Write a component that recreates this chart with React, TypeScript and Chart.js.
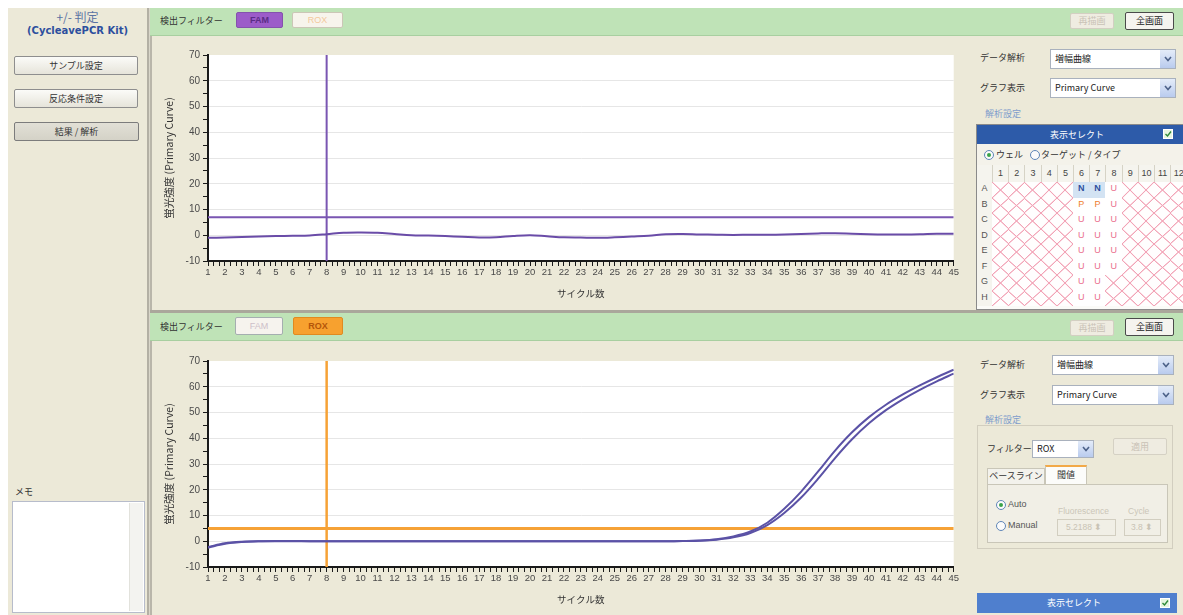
import React, { useEffect, useRef } from 'react';
import { Chart, registerables } from 'chart.js';

Chart.register(...registerables);

// ---------- data ----------
const cycles = [1, 2, 3, 4, 5, 6, 7, 8, 9, 10, 11, 12, 13, 14, 15, 16, 17, 18, 19, 20, 21, 22, 23, 24, 25, 26, 27, 28, 29, 30, 31, 32, 33, 34, 35, 36, 37, 38, 39, 40, 41, 42, 43, 44, 45];

const famCurve = [-1.0, -0.9, -0.7, -0.5, -0.3, -0.2, -0.1, 0.4, 1.0, 1.1, 1.0, 0.5, 0.0, -0.1, -0.3, -0.6, -0.9, -0.8, -0.3, 0.0, -0.4, -0.8, -0.9, -1.0, -0.8, -0.5, -0.2, 0.4, 0.5, 0.3, 0.2, 0.1, 0.2, 0.2, 0.3, 0.5, 0.7, 0.8, 0.6, 0.4, 0.3, 0.3, 0.4, 0.6, 0.6];

const roxCurveA = [-2.5, -1.0, -0.3, 0.0, 0.1, 0.1, 0.0, 0.0, 0.0, 0.0, 0.0, 0.0, 0.0, 0.0, 0.0, 0.0, 0.0, 0.0, 0.0, 0.0, 0.0, 0.0, 0.0, 0.0, 0.0, 0.0, 0.0, 0.0, 0.1, 0.3, 0.8, 1.9, 3.8, 7.2, 12.6, 19.3, 27.1, 35.2, 42.3, 48.2, 53.0, 57.0, 60.5, 63.7, 66.6];

const roxCurveB = [-2.2, -0.8, -0.2, 0.0, 0.0, 0.0, 0.0, 0.0, 0.0, 0.0, 0.0, 0.0, 0.0, 0.0, 0.0, 0.0, 0.0, 0.0, 0.0, 0.0, 0.0, 0.0, 0.0, 0.0, 0.0, 0.0, 0.0, 0.0, 0.1, 0.2, 0.6, 1.5, 3.2, 6.3, 11.0, 17.0, 24.3, 32.3, 39.6, 45.8, 50.9, 55.1, 58.8, 62.1, 65.1];

const famThreshold = 7;
const roxThreshold = 5;
const markerCycle = 8;
const yMin = -10;
const yMax = 70;
const yLabel = '蛍光強度 (Primary Curve)';
const xLabel = 'サイクル数';

const plateRows = ['A', 'B', 'C', 'D', 'E', 'F', 'G', 'H'];
const plateCols = [1, 2, 3, 4, 5, 6, 7, 8, 9, 10, 11, 12];
const wellCalls: Record<string, string> = {
  A6: 'N', A7: 'N', A8: 'U',
  B6: 'P', B7: 'P', B8: 'U',
  C6: 'U', C7: 'U', C8: 'U',
  D6: 'U', D7: 'U', D8: 'U',
  E6: 'U', E7: 'U', E8: 'U',
  F6: 'U', F7: 'U', F8: 'U',
  G6: 'U', G7: 'U',
  H6: 'U', H7: 'U',
};

// ---------- styles ----------
const BEIGE = '#ece9d8';
const GREEN = '#bfe3b7';
const FONT_JP = '"Noto Sans CJK JP", "Noto Sans", sans-serif';
const FONT_UI = '"Liberation Sans", Arial, sans-serif';

const xTickPositions = cycles.flatMap((c) => (c < cycles[cycles.length - 1] ? [c, c + 1 / 3, c + 2 / 3] : [c]));

const plotBg = {
  id: 'plotBg',
  beforeDraw(chart: any) {
    const { ctx, chartArea } = chart;
    if (!chartArea) return;
    ctx.save();
    ctx.fillStyle = '#ffffff';
    ctx.fillRect(chartArea.left, chartArea.top, chartArea.right - chartArea.left, chartArea.bottom - chartArea.top);
    ctx.restore();
  },
};

type Series = { values: number[]; color: string; width: number };

function buildConfig(series: Series[], threshold: number, thrColor: string, thrWidth: number, markerColor: string, markerWidth: number): any {
  const curveSets = series.map((s, k) => ({
    label: 'curve' + k,
    data: cycles.map((c, i) => ({ x: c, y: s.values[i] })),
    borderColor: s.color,
    borderWidth: s.width,
    pointRadius: 0,
    tension: 0.35,
    fill: false,
    order: 1,
  }));
  return {
    type: 'line',
    data: {
      datasets: [
        ...curveSets,
        {
          label: 'threshold',
          data: [{ x: cycles[0], y: threshold }, { x: cycles[cycles.length - 1], y: threshold }],
          borderColor: thrColor,
          borderWidth: thrWidth,
          pointRadius: 0,
          order: 2,
        },
        {
          label: 'marker',
          data: [{ x: markerCycle, y: yMin }, { x: markerCycle, y: yMax }],
          borderColor: markerColor,
          borderWidth: markerWidth,
          pointRadius: 0,
          order: 3,
        },
      ],
    },
    options: {
      responsive: false,
      animation: false,
      layout: { padding: { top: 15, right: 6, left: 0, bottom: 0 } },
      plugins: { legend: { display: false }, tooltip: { enabled: false } },
      scales: {
        x: {
          type: 'linear',
          min: cycles[0],
          max: cycles[cycles.length - 1],
          afterBuildTicks: (axis: any) => {
            axis.ticks = xTickPositions.map((v) => ({ value: v }));
          },
          afterFit: (axis: any) => {
            axis.height = 49;
          },
          ticks: {
            autoSkip: false,
            maxRotation: 0,
            minRotation: 0,
            padding: 1,
            color: '#4a4a4a',
            font: { size: 9.5, family: FONT_UI },
            callback: (v: number) => (Math.abs(v - Math.round(v)) < 1e-6 ? String(Math.round(v)) : ''),
          },
          grid: { display: true, drawOnChartArea: false, drawTicks: true, tickLength: 5, tickColor: '#1a1a1a', tickWidth: 1 },
          border: { display: true, color: '#1a1a1a', width: 2 },
          title: { display: true, text: xLabel, color: '#333', font: { size: 9.5, family: FONT_JP }, padding: { top: 0, bottom: 11 } },
        },
        y: {
          min: yMin,
          max: yMax,
          afterFit: (axis: any) => {
            axis.width = 58;
          },
          ticks: {
            stepSize: 5,
            autoSkip: false,
            padding: 3,
            color: '#4a4a4a',
            font: { size: 10, family: FONT_UI },
            callback: (v: number) => (v % 10 === 0 ? String(v) : ''),
          },
          grid: {
            color: (ctx: any) => {
              const v = ctx.tick ? ctx.tick.value : 0;
              return v % 10 === 0 && v > yMin && v < yMax ? '#e6e6e6' : 'rgba(0,0,0,0)';
            },
            tickColor: '#1a1a1a',
            tickLength: 5,
            drawTicks: true,
          },
          border: { display: true, color: '#1a1a1a', width: 2 },
          title: { display: true, text: yLabel, color: '#333', font: { size: 10.5, family: FONT_JP }, padding: { top: 13, bottom: 0 } },
        },
      },
    },
    plugins: [plotBg],
  };
}

function CurveChart({ top, makeConfig }: { top: number; makeConfig: () => any }) {
  const ref = useRef<HTMLCanvasElement>(null);
  useEffect(() => {
    const chart = new Chart(ref.current as HTMLCanvasElement, makeConfig());
    return () => chart.destroy();
  }, []);
  return <canvas ref={ref} width={810} height={270} style={{ position: 'absolute', left: 150, top, width: 810, height: 270 }} />;
}

// ---------- UI helpers ----------
function Box({ l, t, w, h, style, children }: { l: number; t: number; w: number; h: number; style?: React.CSSProperties; children?: any }) {
  return (
    <div style={{ position: 'absolute', left: l, top: t, width: w, height: h, boxSizing: 'border-box', ...style }}>{children}</div>
  );
}

function Label({ l, t, text, style }: { l: number; t: number; text: string; style?: React.CSSProperties }) {
  return (
    <div style={{ position: 'absolute', left: l, top: t, fontSize: 9, lineHeight: '12px', whiteSpace: 'nowrap', fontFamily: FONT_JP, color: '#333', ...style }}>{text}</div>
  );
}

function Btn({ l, t, w, h, text, style, textStyle }: { l: number; t: number; w: number; h: number; text: string; style?: React.CSSProperties; textStyle?: React.CSSProperties }) {
  return (
    <Box l={l} t={t} w={w} h={h} style={{ border: '1px solid #8e8e8e', borderRadius: 2, background: 'linear-gradient(#fbfbf8,#e6e4da)', display: 'flex', alignItems: 'center', justifyContent: 'center', ...style }}>
      <span style={{ fontSize: 9, fontFamily: FONT_JP, color: '#333', lineHeight: '10px', whiteSpace: 'nowrap', ...textStyle }}>{text}</span>
    </Box>
  );
}

function Dropdown({ l, t, w, h, text }: { l: number; t: number; w: number; h: number; text: string }) {
  return (
    <Box l={l} t={t} w={w} h={h} style={{ background: '#fff', border: '1px solid #a9b1bd' }}>
      <div style={{ position: 'absolute', left: 4, top: 0, lineHeight: h - 2 + 'px', fontSize: 9, fontFamily: FONT_JP, color: '#222', whiteSpace: 'nowrap' }}>{text}</div>
      <div style={{ position: 'absolute', right: 0, top: 0, width: 15, height: h - 2, background: 'linear-gradient(#e4ecf9,#b9cbee)', display: 'flex', alignItems: 'center', justifyContent: 'center' }}>
        <svg width="8" height="6"><path d="M1 1 L4 4.5 L7 1" stroke="#4d6289" strokeWidth="1.6" fill="none" /></svg>
      </div>
    </Box>
  );
}

function Radio({ l, t, checked }: { l: number; t: number; checked: boolean }) {
  return (
    <Box l={l} t={t} w={10} h={10} style={{ borderRadius: '50%', border: '1px solid #5f86b8', background: '#fbfbfb' }}>
      {checked ? <div style={{ position: 'absolute', left: 2, top: 2, width: 4, height: 4, borderRadius: '50%', background: '#3aa34a' }} /> : null}
    </Box>
  );
}

function CheckIcon({ l, t }: { l: number; t: number }) {
  return (
    <Box l={l} t={t} w={10} h={10} style={{ background: '#e6f5e0', border: '1px solid #ffffff' }}>
      <svg width="8" height="8" style={{ position: 'absolute', left: 0, top: 0 }}><path d="M1.5 4 L3.5 6 L7 1.5" stroke="#2f8a3a" strokeWidth="1.4" fill="none" /></svg>
    </Box>
  );
}

const hatch = 'linear-gradient(to top right, rgba(0,0,0,0) calc(50% - 0.8px), #f2a3b6 calc(50% - 0.2px), #f2a3b6 calc(50% + 0.2px), rgba(0,0,0,0) calc(50% + 0.8px)), linear-gradient(to bottom right, rgba(0,0,0,0) calc(50% - 0.8px), #f2a3b6 calc(50% - 0.2px), #f2a3b6 calc(50% + 0.2px), rgba(0,0,0,0) calc(50% + 0.8px))';

function Plate() {
  const x0 = 992;
  const cw = 16.2;
  const headTop = 165;
  const rowTop = 182;
  const rh = 15.5;
  const callColor: Record<string, string> = { N: '#2f4f9e', P: '#ef7d2c', U: '#ea6d8d' };
  const els: any[] = [];
  els.push(<Box key="hd" l={977} t={headTop} w={206} h={rowTop - headTop} style={{ background: '#f5f4ee' }} />);
  plateCols.forEach((c, i) => {
    els.push(
      <Box key={'c' + c} l={x0 + i * cw} t={headTop} w={cw} h={rowTop - headTop} style={{ borderLeft: '1px solid #d6d3c6', textAlign: 'center', fontSize: 9, lineHeight: rowTop - headTop + 'px', fontFamily: FONT_UI, color: '#444' }}>{String(c)}</Box>
    );
  });
  plateRows.forEach((r, j) => {
    const y = rowTop + j * rh;
    els.push(
      <Box key={'r' + r} l={977} t={y} w={15} h={rh} style={{ background: '#f5f4ee', textAlign: 'center', fontSize: 9, lineHeight: rh - 2 + 'px', fontFamily: FONT_UI, color: '#555' }}>{r}</Box>
    );
    plateCols.forEach((c, i) => {
      const call = wellCalls[r + c];
      els.push(
        <Box key={r + c} l={x0 + i * cw} t={y} w={cw + 0.3} h={rh + 0.3} style={{ background: call ? (call === 'N' ? '#d3e3f3' : '#ffffff') : '#fffefe', backgroundImage: call ? 'none' : hatch, textAlign: 'center', fontSize: 9, lineHeight: rh - 2 + 'px', fontFamily: FONT_UI, color: call ? callColor[call] : '#000', fontWeight: call === 'N' ? 'bold' : 'normal' }}>{call || ''}</Box>
      );
    });
  });
  return <>{els}</>;
}

export default function App() {
  const makeTop = () =>
    buildConfig([{ values: famCurve, color: '#6a4ca8', width: 2 }], famThreshold, '#7a56b2', 2, '#7a56b2', 2);
  const makeBottom = () =>
    buildConfig(
      [
        { values: roxCurveA, color: '#5b52a6', width: 2 },
        { values: roxCurveB, color: '#5b52a6', width: 2 },
      ],
      roxThreshold, '#f6a236', 3, '#f6a236', 2.5
    );

  return (
    <div style={{ position: 'absolute', left: 0, top: 0, width: 1183, height: 615, overflow: 'hidden', background: '#ffffff', fontFamily: FONT_JP }}>
      {/* left panel */}
      <Box l={8} t={8} w={140} h={607} style={{ background: BEIGE }} />
      <Box l={147} t={8} w={3} h={607} style={{ background: '#b3b0a4', borderRight: '1px solid #d9d6c9' }} />
      <Box l={8} t={10} w={139} h={14} style={{ textAlign: 'center', fontSize: 12, lineHeight: '14px', color: '#5a72a3' }}>+/- 判定</Box>
      <Box l={8} t={24} w={139} h={14} style={{ textAlign: 'center', fontSize: 10, lineHeight: '14px', color: '#2c4f9e', fontFamily: '"DejaVu Sans", sans-serif', fontWeight: 'bold' }}>(CycleavePCR Kit)</Box>
      <Btn l={14} t={56} w={124} h={19} text="サンプル設定" />
      <Btn l={14} t={89} w={124} h={19} text="反応条件設定" />
      <Btn l={14} t={122} w={125} h={19} text="結果 / 解析" style={{ background: 'linear-gradient(#e2e0d6,#d4d2c7)', border: '1px solid #7c7c7c' }} />
      <Label l={15} t={486} text="メモ" />
      <Box l={12} t={501} w={133} h={112} style={{ background: '#ffffff', border: '1px solid #b7bccb' }}>
        <div style={{ position: 'absolute', right: 1, top: 1, width: 13, height: 108, background: '#f3f3f0', borderLeft: '1px solid #e2e2dc' }} />
      </Box>

      {/* top section */}
      <Box l={150} t={8} w={1033} h={28} style={{ background: GREEN, borderBottom: '1px solid #a8cfa0' }} />
      <Box l={150} t={36} w={1033} h={275} style={{ background: BEIGE, borderLeft: '2px solid #b9b6aa' }} />
      <Label l={160} t={15} text="検出フィルター" />
      <Btn l={236} t={12} w={47} h={16} text="FAM" style={{ background: '#9c5cc9', border: '1px solid #8452ad' }} textStyle={{ color: '#5a2d86', fontFamily: FONT_UI, fontWeight: 'bold' }} />
      <Btn l={292} t={12} w={51} h={16} text="ROX" style={{ background: '#f7f4ec', border: '1px solid #cbc6b6' }} textStyle={{ color: '#f3c99c', fontFamily: FONT_UI }} />
      <Btn l={1070} t={13} w={44} h={16} text="再描画" style={{ background: '#efece1', border: '1px solid #d3cfc2' }} textStyle={{ color: '#c9c2b6' }} />
      <Btn l={1125} t={12} w={49} h={18} text="全画面" style={{ background: '#f5f4ef', border: '1px solid #4a4a4a' }} textStyle={{ color: '#222' }} />

      <CurveChart top={40} makeConfig={makeTop} />

      <Label l={980} t={52} text="データ解析" />
      <Dropdown l={1050} t={49} w={126} h={20} text="増幅曲線" />
      <Label l={980} t={82} text="グラフ表示" />
      <Dropdown l={1050} t={78} w={126} h={20} text="Primary Curve" />
      <Label l={985} t={108} text="解析設定" style={{ color: '#7f9dcc' }} />

      <Box l={976} t={124} w={210} h={186} style={{ background: '#fbfbf8', border: '1px solid #8a8a8a' }} />
      <Box l={977} t={125} w={206} h={19} style={{ background: '#2d5ba9', color: '#fff', fontSize: 9, lineHeight: '19px', textAlign: 'center', paddingRight: 6 }}>表示セレクト</Box>
      <CheckIcon l={1163} t={129} />
      <Box l={977} t={144} w={206} h={21} style={{ background: '#f4f2ea' }} />
      <Radio l={984} t={150} checked={true} />
      <Label l={996} t={149} text="ウェル" />
      <Radio l={1030} t={150} checked={false} />
      <Label l={1041} t={149} text="ターゲット / タイプ" />
      <Plate />

      {/* separator */}
      <Box l={150} t={310} w={1033} h={3} style={{ background: '#aaa79b' }} />

      {/* bottom section */}
      <Box l={150} t={313} w={1033} h={28} style={{ background: GREEN, borderBottom: '1px solid #a8cfa0' }} />
      <Box l={150} t={341} w={1033} h={274} style={{ background: BEIGE, borderLeft: '2px solid #b9b6aa' }} />
      <Label l={160} t={321} text="検出フィルター" />
      <Btn l={235} t={317} w={48} h={18} text="FAM" style={{ background: '#f6f3ee', border: '1px solid #a5aeb0' }} textStyle={{ color: '#cdbfc9', fontFamily: FONT_UI }} />
      <Btn l={293} t={317} w={50} h={18} text="ROX" style={{ background: '#f7a12f', border: '1px solid #e08a20' }} textStyle={{ color: '#b4560a', fontFamily: FONT_UI, fontWeight: 'bold' }} />
      <Btn l={1070} t={320} w={44} h={16} text="再描画" style={{ background: '#efece1', border: '1px solid #d3cfc2' }} textStyle={{ color: '#c9c2b6' }} />
      <Btn l={1125} t={318} w={49} h={18} text="全画面" style={{ background: '#f5f4ef', border: '1px solid #4a4a4a' }} textStyle={{ color: '#222' }} />

      <CurveChart top={346} makeConfig={makeBottom} />

      <Label l={980} t={359} text="データ解析" />
      <Dropdown l={1052} t={355} w={122} h={20} text="増幅曲線" />
      <Label l={980} t={389} text="グラフ表示" />
      <Dropdown l={1052} t={385} w={122} h={20} text="Primary Curve" />
      <Label l={985} t={414} text="解析設定" style={{ color: '#7f9dcc' }} />
      <Box l={977} t={425} w={196} h={124} style={{ border: '1px solid #d2cebf' }} />
      <Label l={987} t={443} text="フィルター" />
      <Dropdown l={1032} t={440} w={62} h={18} text="ROX" />
      <Btn l={1113} t={438} w={54} h={17} text="適用" style={{ background: '#efece1', border: '1px solid #d5d1c4' }} textStyle={{ color: '#c9c2b6' }} />
      <Box l={987} t={468} w={58} h={16} style={{ background: '#f3f2ec', border: '1px solid #c9c6b8', borderBottom: 'none', fontSize: 9, lineHeight: '14px', textAlign: 'center', color: '#333' }}>ベースライン</Box>
      <Box l={1045} t={465} w={42} h={20} style={{ background: '#fcfcfa', border: '1px solid #c9c6b8', borderTop: '2px solid #f2a948', borderBottom: 'none', fontSize: 9, lineHeight: '16px', textAlign: 'center', color: '#333' }}>閾値</Box>
      <Box l={987} t={484} w={181} h={59} style={{ border: '1px solid #c9c6b8', background: '#f1efe6' }} />
      <Radio l={996} t={500} checked={true} />
      <Label l={1008} t={498} text="Auto" style={{ fontFamily: FONT_UI, color: '#555' }} />
      <Radio l={996} t={521} checked={false} />
      <Label l={1008} t={519} text="Manual" style={{ fontFamily: FONT_UI, color: '#555' }} />
      <Label l={1058} t={505} text="Fluorescence" style={{ fontFamily: FONT_UI, color: '#cbc6b8', fontSize: 8.5 }} />
      <Label l={1128} t={505} text="Cycle" style={{ fontFamily: FONT_UI, color: '#cbc6b8', fontSize: 8.5 }} />
      <Box l={1057} t={519} w={59} h={17} style={{ border: '1px solid #d2cec0', background: '#f1efe6', fontSize: 8.5, lineHeight: '15px', paddingLeft: 8, color: '#c9c3b5', fontFamily: FONT_UI }}>5.2188 ⬍</Box>
      <Box l={1124} t={519} w={37} h={17} style={{ border: '1px solid #d2cec0', background: '#f1efe6', fontSize: 8.5, lineHeight: '15px', paddingLeft: 6, color: '#c9c3b5', fontFamily: FONT_UI }}>3.8 ⬍</Box>

      <Box l={977} t={593} w={200} h={20} style={{ background: '#4f7fce', color: '#fff', fontSize: 9, lineHeight: '20px', textAlign: 'center', paddingRight: 6 }}>表示セレクト</Box>
      <CheckIcon l={1160} t={598} />
    </div>
  );
}
